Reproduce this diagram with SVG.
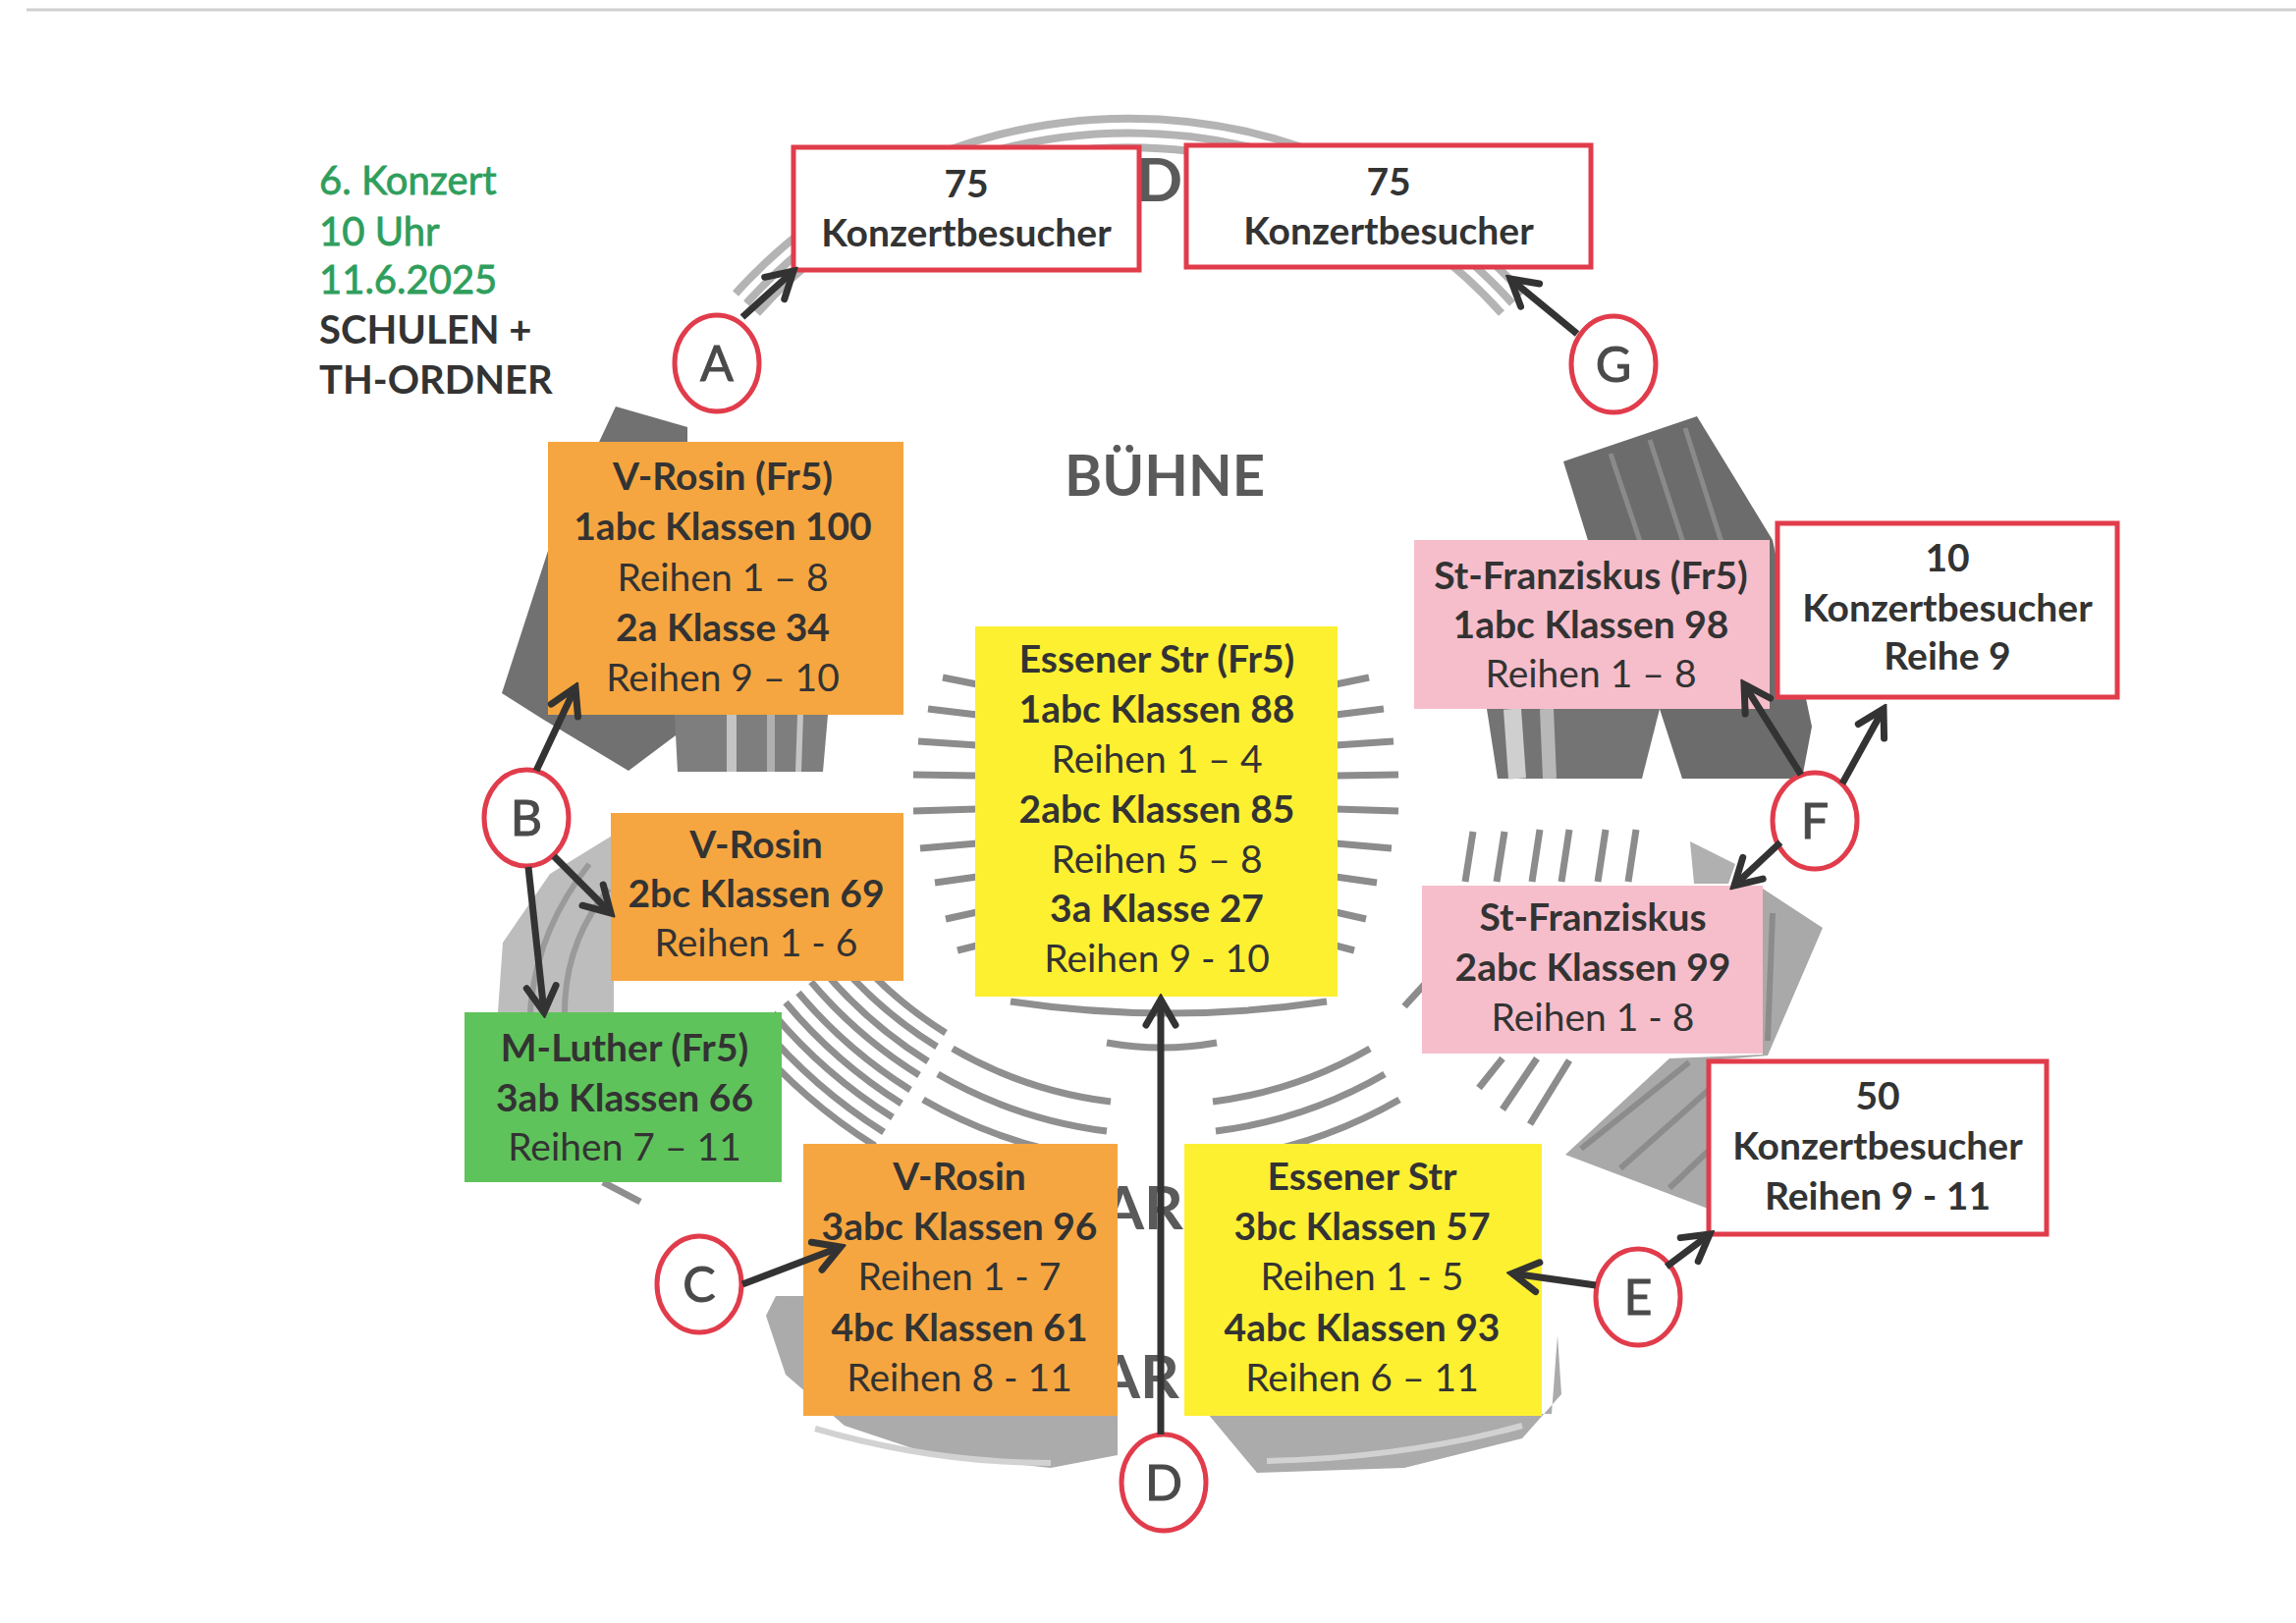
<svg xmlns="http://www.w3.org/2000/svg" width="2338" height="1653" viewBox="0 0 2338 1653">
<style>
  .t { font-family: Lato, "Liberation Sans", "DejaVu Sans", sans-serif; fill: #333; text-anchor: middle; font-size: 39px; }
  .b { font-weight: 700; }
  .ttl { font-family: Lato, "Liberation Sans", sans-serif; font-size: 40px; fill: #2f9e5c; stroke: #2f9e5c; stroke-width: 0.8; }
  .ttlb { font-family: Lato, "Liberation Sans", sans-serif; font-size: 40px; fill: #333; font-weight: 700; }
  .or { fill: #f6a640; }
  .ye { fill: #fdf031; }
  .gr { fill: #5fc35b; }
  .pk { fill: #f6becb; }
  .rb { fill: #ffffff; stroke: #e13c4b; stroke-width: 5; }
  .circ { fill: #ffffff; stroke: #e13c4b; stroke-width: 5; }
  .lt { font-family: Lato, "Liberation Sans", sans-serif; font-size: 50px; fill: #4a4a4a; stroke: #4a4a4a; stroke-width: 1; text-anchor: middle; }
  .conn { stroke: #333; stroke-width: 7; fill: none; marker-end: url(#ah); }
  .dash { stroke: #8c8c8c; stroke-width: 7; fill: none; }
  .arc { stroke: #8f8f8f; stroke-width: 7; fill: none; }
  .arcl { stroke: #b4b4b4; stroke-width: 8; fill: none; }
  .bgt { font-family: Lato, "Liberation Sans", sans-serif; font-weight: 700; fill: #5a5a5a; }
</style>
<defs>
  <marker id="ah" viewBox="0 0 40 40" refX="34" refY="20" markerWidth="40" markerHeight="40" markerUnits="userSpaceOnUse" orient="auto">
    <path d="M8,5 L34,20 L8,35" fill="none" stroke="#333" stroke-width="7" stroke-linecap="round"/>
  </marker>
</defs>
<rect x="0" y="0" width="2338" height="1653" fill="#ffffff"/>
<line x1="27" y1="10" x2="2338" y2="10" stroke="#d0d0d0" stroke-width="3"/>

<g id="background">
  <path d="M771,319 A510,510 0 0,1 1529,319" class="arcl"/>
  <path d="M760,309 A525,525 0 0,1 1540,309" class="arcl"/>
  <path d="M749,299 A540,540 0 0,1 1551,299" class="arcl"/>
  <text x="1157" y="205" class="bgt" font-size="62">D</text>
  <polygon points="627,414 700,435 700,740 640,785 552,732 511,706 558,561" fill="#717171"/>
  <polygon points="687,728 843,728 838,786 690,786" fill="#7e7e7e"/>
  <line x1="745" y1="728" x2="745" y2="786" stroke="#c4c4c4" stroke-width="10"/>
  <line x1="785" y1="728" x2="785" y2="786" stroke="#b0b0b0" stroke-width="8"/>
  <line x1="815" y1="728" x2="813" y2="786" stroke="#c4c4c4" stroke-width="6"/>
  <polygon points="1592,470 1728,424 1805,550 1845,740 1835,793 1713,793 1690,722 1620,560" fill="#6c6c6c"/>
  <line x1="1640" y1="462" x2="1720" y2="700" stroke="#8a8a8a" stroke-width="5"/>
  <line x1="1680" y1="448" x2="1762" y2="700" stroke="#8a8a8a" stroke-width="5"/>
  <line x1="1716" y1="436" x2="1800" y2="700" stroke="#8a8a8a" stroke-width="5"/>
  <polygon points="1514,722 1690,722 1672,793 1525,793" fill="#747474"/>
  <line x1="1540" y1="722" x2="1545" y2="793" stroke="#cfcfcf" stroke-width="18"/>
  <line x1="1575" y1="722" x2="1578" y2="793" stroke="#b8b8b8" stroke-width="14"/>
  <line x1="1500" y1="847" x2="1492" y2="898" class="dash"/>
  <line x1="1532" y1="847" x2="1524" y2="898" class="dash"/>
  <line x1="1568" y1="845" x2="1560" y2="898" class="dash"/>
  <line x1="1598" y1="845" x2="1590" y2="898" class="dash"/>
  <line x1="1635" y1="845" x2="1627" y2="898" class="dash"/>
  <line x1="1666" y1="845" x2="1658" y2="898" class="dash"/>
  <polygon points="1721,857 1767,880 1760,900 1725,900" fill="#b0b0b0"/>
  <line x1="1462" y1="990" x2="1430" y2="1025" class="dash"/>
  <polygon points="1795,905 1856,945 1800,1075 1742,1080 1742,1232 1594,1176 1700,1078 1795,1074" fill="#a9a9a9"/>
  <line x1="1610" y1="1170" x2="1720" y2="1082" stroke="#8c8c8c" stroke-width="6"/>
  <line x1="1650" y1="1190" x2="1740" y2="1110" stroke="#8c8c8c" stroke-width="6"/>
  <line x1="1700" y1="1210" x2="1742" y2="1170" stroke="#8c8c8c" stroke-width="6"/>
  <line x1="1805" y1="930" x2="1800" y2="1060" stroke="#8c8c8c" stroke-width="6"/>
  <line x1="1530" y1="1078" x2="1506" y2="1108" class="dash"/>
  <line x1="1565" y1="1078" x2="1530" y2="1130" class="dash"/>
  <line x1="1598" y1="1080" x2="1558" y2="1145" class="dash"/>
  <line x1="960" y1="690" x2="995" y2="697" class="dash"/>
  <line x1="945" y1="722" x2="995" y2="728" class="dash"/>
  <line x1="935" y1="755" x2="995" y2="759" class="dash"/>
  <line x1="930" y1="789" x2="995" y2="790" class="dash"/>
  <line x1="930" y1="826" x2="995" y2="824" class="dash"/>
  <line x1="937" y1="864" x2="995" y2="859" class="dash"/>
  <line x1="952" y1="899" x2="995" y2="893" class="dash"/>
  <line x1="963" y1="936" x2="995" y2="929" class="dash"/>
  <line x1="975" y1="968" x2="995" y2="963" class="dash"/>
  <line x1="1394" y1="690" x2="1360" y2="697" class="dash"/>
  <line x1="1409" y1="722" x2="1360" y2="728" class="dash"/>
  <line x1="1419" y1="755" x2="1360" y2="759" class="dash"/>
  <line x1="1424" y1="789" x2="1360" y2="790" class="dash"/>
  <line x1="1424" y1="826" x2="1360" y2="824" class="dash"/>
  <line x1="1417" y1="864" x2="1360" y2="859" class="dash"/>
  <line x1="1402" y1="899" x2="1360" y2="893" class="dash"/>
  <line x1="1391" y1="936" x2="1360" y2="929" class="dash"/>
  <line x1="1379" y1="968" x2="1360" y2="963" class="dash"/>
  <polygon points="625,850 625,1031 507,1031 512,960 560,890" fill="#bdbdbd"/>
  <path d="M540,1031 Q545,950 600,880" stroke="#9a9a9a" stroke-width="6" fill="none"/>
  <path d="M575,1031 Q575,960 620,905" stroke="#9a9a9a" stroke-width="6" fill="none"/>
  <path d="M865,967 A415,415 0 0,0 963,1052" class="arc"/>
  <path d="M852,978 A432,432 0 0,0 954,1066" class="arc"/>
  <path d="M839,989 A449,449 0 0,0 945,1081" class="arc"/>
  <path d="M826,1000 A466,466 0 0,0 936,1095" class="arc"/>
  <path d="M813,1011 A483,483 0 0,0 927,1110" class="arc"/>
  <path d="M800,1021 A500,500 0 0,0 918,1124" class="arc"/>
  <path d="M787,1032 A517,517 0 0,0 909,1138" class="arc"/>
  <path d="M774,1043 A534,534 0 0,0 900,1153" class="arc"/>
  <path d="M761,1054 A551,551 0 0,0 891,1167" class="arc"/>
  <path d="M614,1204 L652,1224" class="arc"/>
  <path d="M1029,1020 Q1190,1044 1351,1020" class="arc"/>
  <path d="M1127,1062 Q1183,1072 1239,1062" class="arc"/>
  <path d="M970,1068 A425,425 0 0,0 1131,1122" class="arc"/>
  <path d="M955,1094 A455,455 0 0,0 1127,1152" class="arc"/>
  <path d="M940,1120 A485,485 0 0,0 1124,1181" class="arc"/>
  <path d="M1235,1122 A425,425 0 0,0 1395,1068" class="arc"/>
  <path d="M1238,1152 A455,455 0 0,0 1410,1094" class="arc"/>
  <path d="M1242,1181 A485,485 0 0,0 1425,1120" class="arc"/>
  <polygon points="790,1320 818,1320 818,1442 1138,1442 1138,1482 1070,1495 950,1482 860,1452 800,1400 780,1340" fill="#ababab"/>
  <path d="M830,1455 Q950,1490 1070,1490" stroke="#d2d2d2" stroke-width="6" fill="none"/>
  <polygon points="1230,1440 1580,1440 1586,1360 1590,1420 1550,1465 1430,1495 1280,1500" fill="#ababab"/>
  <path d="M1290,1488 Q1430,1485 1550,1452" stroke="#d2d2d2" stroke-width="6" fill="none"/>
  <text x="1122" y="1252" class="bgt" font-size="62">AR</text>
  <text x="1118" y="1424" class="bgt" font-size="62">AR</text>
</g>

<g id="title">
  <text x="325" y="198" class="ttl">6. Konzert</text>
  <text x="325" y="250" class="ttl">10 Uhr</text>
  <text x="325" y="299" class="ttl">11.6.2025</text>
  <text x="325" y="350" class="ttlb">SCHULEN +</text>
  <text x="325" y="401" class="ttlb">TH-ORDNER</text>
</g>

<g id="buehne">
  <text x="1186" y="505" class="bgt" font-size="58" text-anchor="middle">BÜHNE</text>
</g>

<g id="box-a-75">
  <rect x="808" y="150" width="352" height="125" class="rb"/>
  <text x="984" y="201" class="t b">75</text>
  <text x="984" y="251" class="t b">Konzertbesucher</text>
</g>
<g id="box-g-75">
  <rect x="1208" y="148" width="412" height="124" class="rb"/>
  <text x="1414" y="199" class="t b">75</text>
  <text x="1414" y="249" class="t b">Konzertbesucher</text>
</g>

<g id="box-vrosin-fr5">
  <rect x="558" y="450" width="362" height="278" class="or"/>
  <text x="736" y="499" class="t b">V-Rosin (Fr5)</text>
  <text x="736" y="550" class="t b">1abc Klassen 100</text>
  <text x="736" y="602" class="t">Reihen 1 – 8</text>
  <text x="736" y="653" class="t b">2a Klasse 34</text>
  <text x="736" y="704" class="t">Reihen 9 – 10</text>
</g>
<g id="box-vrosin-2bc">
  <rect x="622" y="828" width="298" height="171" class="or"/>
  <text x="770" y="874" class="t b">V-Rosin</text>
  <text x="770" y="924" class="t b">2bc Klassen 69</text>
  <text x="770" y="974" class="t">Reihen 1 - 6</text>
</g>
<g id="box-mluther">
  <rect x="473" y="1031" width="323" height="173" class="gr"/>
  <text x="636" y="1081" class="t b">M-Luther (Fr5)</text>
  <text x="636" y="1132" class="t b">3ab Klassen 66</text>
  <text x="636" y="1182" class="t">Reihen 7 – 11</text>
</g>
<g id="box-essener-fr5">
  <rect x="993" y="638" width="369" height="377" class="ye"/>
  <text x="1178" y="685" class="t b">Essener Str (Fr5)</text>
  <text x="1178" y="736" class="t b">1abc Klassen 88</text>
  <text x="1178" y="787" class="t">Reihen 1 – 4</text>
  <text x="1178" y="838" class="t b">2abc Klassen 85</text>
  <text x="1178" y="889" class="t">Reihen 5 – 8</text>
  <text x="1178" y="939" class="t b">3a Klasse 27</text>
  <text x="1178" y="990" class="t">Reihen 9 - 10</text>
</g>
<g id="box-vrosin-3abc">
  <rect x="818" y="1165" width="320" height="277" class="or"/>
  <text x="977" y="1212" class="t b">V-Rosin</text>
  <text x="977" y="1263" class="t b">3abc Klassen 96</text>
  <text x="977" y="1314" class="t">Reihen 1 - 7</text>
  <text x="977" y="1366" class="t b">4bc Klassen 61</text>
  <text x="977" y="1417" class="t">Reihen 8 - 11</text>
</g>
<g id="box-essener-3bc">
  <rect x="1206" y="1165" width="364" height="277" class="ye"/>
  <text x="1387" y="1212" class="t b">Essener Str</text>
  <text x="1387" y="1263" class="t b">3bc Klassen 57</text>
  <text x="1387" y="1314" class="t">Reihen 1 - 5</text>
  <text x="1387" y="1366" class="t b">4abc Klassen 93</text>
  <text x="1387" y="1417" class="t">Reihen 6 – 11</text>
</g>
<g id="box-franziskus-fr5">
  <rect x="1440" y="550" width="362" height="172" class="pk"/>
  <text x="1620" y="600" class="t b">St-Franziskus (Fr5)</text>
  <text x="1620" y="650" class="t b">1abc Klassen 98</text>
  <text x="1620" y="700" class="t">Reihen 1 – 8</text>
</g>
<g id="box-f-10">
  <rect x="1810" y="533" width="346" height="177" class="rb"/>
  <text x="1983" y="582" class="t b">10</text>
  <text x="1983" y="633" class="t b">Konzertbesucher</text>
  <text x="1983" y="682" class="t b">Reihe 9</text>
</g>
<g id="box-franziskus-2abc">
  <rect x="1448" y="902" width="347" height="171" class="pk"/>
  <text x="1622" y="948" class="t b">St-Franziskus</text>
  <text x="1622" y="999" class="t b">2abc Klassen 99</text>
  <text x="1622" y="1050" class="t">Reihen 1 - 8</text>
</g>
<g id="box-e-50">
  <rect x="1740" y="1081" width="344" height="176" class="rb"/>
  <text x="1912" y="1130" class="t b">50</text>
  <text x="1912" y="1181" class="t b">Konzertbesucher</text>
  <text x="1912" y="1232" class="t b">Reihen 9 - 11</text>
</g>

<g id="entrance-a"><ellipse cx="730" cy="370" rx="43" ry="49" class="circ"/><text x="730" y="388" class="lt">A</text></g>
<g id="entrance-g"><ellipse cx="1643" cy="371" rx="43" ry="49" class="circ"/><text x="1643" y="389" class="lt">G</text></g>
<g id="entrance-b"><ellipse cx="536" cy="833" rx="43" ry="49" class="circ"/><text x="536" y="851" class="lt">B</text></g>
<g id="entrance-f"><ellipse cx="1848" cy="836" rx="43" ry="49" class="circ"/><text x="1848" y="854" class="lt">F</text></g>
<g id="entrance-c"><ellipse cx="712" cy="1308" rx="43" ry="49" class="circ"/><text x="712" y="1326" class="lt">C</text></g>
<g id="entrance-d"><ellipse cx="1185" cy="1510" rx="43" ry="49" class="circ"/><text x="1185" y="1528" class="lt">D</text></g>
<g id="entrance-e"><ellipse cx="1668" cy="1321" rx="43" ry="49" class="circ"/><text x="1668" y="1339" class="lt">E</text></g>

<g id="connectors">
  <line x1="756" y1="323" x2="808" y2="276" class="conn"/>
  <line x1="1606" y1="340" x2="1538" y2="284" class="conn"/>
  <line x1="546" y1="785" x2="586" y2="700" class="conn"/>
  <line x1="564" y1="872" x2="622" y2="930" class="conn"/>
  <line x1="538" y1="883" x2="554" y2="1031" class="conn"/>
  <line x1="756" y1="1308" x2="856" y2="1270" class="conn"/>
  <line x1="1182" y1="1461" x2="1182" y2="1018" class="conn"/>
  <line x1="1625" y1="1309" x2="1540" y2="1297" class="conn"/>
  <line x1="1697" y1="1290" x2="1741" y2="1257" class="conn"/>
  <line x1="1834" y1="789" x2="1776" y2="697" class="conn"/>
  <line x1="1876" y1="798" x2="1918" y2="722" class="conn"/>
  <line x1="1813" y1="858" x2="1766" y2="902" class="conn"/>
</g>
</svg>
